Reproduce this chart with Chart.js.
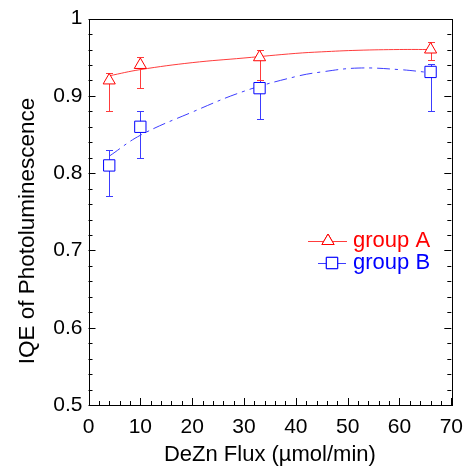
<!DOCTYPE html>
<html>
<head>
<meta charset="utf-8">
<script src="https://cdn.jsdelivr.net/npm/chart.js@4"></script>
<style>
  html, body { margin: 0; padding: 0; background: #fff; }
  #iqeChart { display: block; }
</style>
</head>
<body>
<canvas id="iqeChart" width="473" height="468"></canvas>
<script>
// measured points
const fluxValues = [4, 10, 33, 66];
const groupA = [0.92, 0.94, 0.95, 0.96];
const groupAErrUp = [0.01, 0.01, 0.01, 0.01];
const groupAErrDown = [0.04, 0.03, 0.03, 0.013];
const groupB = [0.81, 0.86, 0.91, 0.931];
const groupBErrUp = [0.02, 0.02, 0.01, 0.01];
const groupBErrDown = [0.04, 0.04, 0.04, 0.05];

// fitted curves
const fitFlux = [4, 10, 20, 30, 40, 45, 52, 60, 66];
const fitA = [0.926, 0.934, 0.943, 0.949, 0.955, 0.957, 0.959, 0.960, 0.960];
const fitB = [0.822, 0.849, 0.879, 0.906, 0.925, 0.931, 0.936, 0.934, 0.930];

const RED = "#ff0000";
const BLUE = "#0000ff";
const RED_LINE = "#ff3c3c";
const BLUE_LINE = "#3c3cff";
const FONT = "'Liberation Sans', Arial, sans-serif";

function toPoints(xs, ys) {
  return xs.map((x, i) => ({ x: x, y: ys[i] }));
}

// error bars drawn just before their marker dataset
const errorBars = {
  id: "errorBars",
  beforeDatasetDraw(chart, args) {
    const ds = chart.data.datasets[args.index];
    if (!ds.errUp) return;
    const { ctx, scales } = chart;
    ctx.save();
    ctx.strokeStyle = ds.errColor;
    ctx.lineWidth = 1;
    ds.data.forEach((p, i) => {
      const px = Math.round(scales.x.getPixelForValue(p.x)) + 0.5;
      const top = Math.round(scales.y.getPixelForValue(p.y + ds.errUp[i])) + 0.5;
      const bot = Math.round(scales.y.getPixelForValue(p.y - ds.errDown[i])) + 0.5;
      ctx.beginPath();
      ctx.moveTo(px, top);
      ctx.lineTo(px, bot);
      ctx.moveTo(px - 3.5, top);
      ctx.lineTo(px + 3.5, top);
      ctx.moveTo(px - 3.5, bot);
      ctx.lineTo(px + 3.5, bot);
      ctx.stroke();
    });
    ctx.restore();
  },
};

// frame with inward ticks on left, right and bottom, plus the y title
const frameTicks = {
  id: "frameTicks",
  afterDraw(chart) {
    const { ctx, chartArea: a, scales } = chart;
    ctx.save();
    ctx.strokeStyle = "#000";
    ctx.lineWidth = 1;
    ctx.beginPath();
    scales.y.ticks.forEach((t) => {
      const py = Math.round(scales.y.getPixelForValue(t.value)) + 0.5;
      const major = Math.abs(t.value * 10 - Math.round(t.value * 10)) < 1e-6;
      const len = major ? 7 : 4;
      ctx.moveTo(a.left, py);
      ctx.lineTo(a.left + len, py);
      ctx.moveTo(a.right, py);
      ctx.lineTo(a.right - len, py);
    });
    scales.x.ticks.forEach((t) => {
      const px = Math.round(scales.x.getPixelForValue(t.value)) + 0.5;
      const len = t.value % 10 === 0 ? 7 : 4;
      ctx.moveTo(px, a.bottom);
      ctx.lineTo(px, a.bottom - len);
    });
    ctx.stroke();
    ctx.strokeRect(Math.round(a.left) + 0.5, Math.round(a.top) + 0.5,
      Math.round(a.right - a.left), Math.round(a.bottom - a.top));

    ctx.translate(34, 231);
    ctx.rotate(-Math.PI / 2);
    ctx.fillStyle = "#000";
    ctx.font = "22.5px " + FONT;
    ctx.textAlign = "center";
    ctx.textBaseline = "alphabetic";
    ctx.fillText("IQE of Photoluminescence", 0, 0);
    ctx.restore();
  },
};

// legend inside the plot area
const insideLegend = {
  id: "insideLegend",
  afterDraw(chart) {
    const ctx = chart.ctx;
    const rows = [
      { ds: chart.data.datasets[2], y: 241, x0: 308, x1: 347, mx: 328 },
      { ds: chart.data.datasets[3], y: 263, x0: 318, x1: 346, mx: 332 },
    ];
    ctx.save();
    rows.forEach((r) => {
      ctx.strokeStyle = r.ds.errColor;
      ctx.lineWidth = 1;
      ctx.beginPath();
      ctx.moveTo(r.x0, r.y + 0.5);
      ctx.lineTo(r.x1, r.y + 0.5);
      ctx.stroke();
      ctx.strokeStyle = r.ds.borderColor;
      Chart.helpers.drawPoint(ctx, {
        pointStyle: r.ds.pointStyle,
        radius: r.ds.pointRadius,
        borderWidth: 1,
      }, r.mx, r.y);
      ctx.fillStyle = "#fff";
      ctx.fill();
      ctx.stroke();
      ctx.fillStyle = r.ds.borderColor;
      ctx.font = "22px " + FONT;
      ctx.textBaseline = "middle";
      ctx.fillText(r.ds.label, 353, r.y);
    });
    ctx.restore();
  },
};

const ctx = document.getElementById("iqeChart").getContext("2d");
new Chart(ctx, {
  type: "scatter",
  data: {
    datasets: [
      {
        label: "fit A",
        data: toPoints(fitFlux, fitA),
        showLine: true,
        borderColor: RED_LINE,
        borderWidth: 1,
        pointRadius: 0,
        tension: 0.4,
        order: 3,
      },
      {
        label: "fit B",
        data: toPoints(fitFlux, fitB),
        showLine: true,
        borderColor: BLUE_LINE,
        borderWidth: 1,
        borderDash: [13, 5, 3, 5],
        pointRadius: 0,
        tension: 0.4,
        order: 3,
      },
      {
        label: "group A",
        data: toPoints(fluxValues, groupA),
        errUp: groupAErrUp,
        errDown: groupAErrDown,
        errColor: RED_LINE,
        borderColor: RED,
        backgroundColor: "#fff",
        borderWidth: 1,
        pointStyle: "triangle",
        pointRadius: 7,
        order: 1,
      },
      {
        label: "group B",
        data: toPoints(fluxValues, groupB),
        errUp: groupBErrUp,
        errDown: groupBErrDown,
        errColor: BLUE_LINE,
        borderColor: BLUE,
        backgroundColor: "#fff",
        borderWidth: 1,
        pointStyle: "rect",
        pointRadius: 8,
        order: 1,
      },
    ],
  },
  options: {
    responsive: false,
    animation: false,
    layout: { padding: { top: 14, right: 17, left: 0, bottom: 0 } },
    plugins: {
      legend: { display: false },
      tooltip: { enabled: false },
    },
    scales: {
      x: {
        type: "linear",
        min: 0,
        max: 70,
        border: { display: false },
        grid: { display: false, drawTicks: false },
        ticks: {
          stepSize: 2,
          autoSkip: false,
          maxRotation: 0,
          padding: 10,
          color: "#000",
          font: { family: FONT, size: 21 },
          callback: (v) => (v % 10 === 0 ? String(v) : ""),
        },
        title: {
          display: true,
          text: "DeZn Flux (\u00b5mol/min)",
          color: "#000",
          font: { family: FONT, size: 22 },
          padding: { top: 2, bottom: 0 },
        },
        afterFit: (scale) => { scale.height = 63; },
      },
      y: {
        min: 0.5,
        max: 1,
        border: { display: false },
        grid: { display: false, drawTicks: false },
        ticks: {
          stepSize: 0.02,
          autoSkip: false,
          padding: 6,
          color: "#000",
          font: { family: FONT, size: 21 },
          callback: (v) => {
            const major = Math.abs(v * 10 - Math.round(v * 10)) < 1e-6;
            return major ? String(Math.round(v * 10) / 10) : "";
          },
        },
        afterFit: (scale) => { scale.width = 88.5; },
      },
    },
  },
  plugins: [errorBars, frameTicks, insideLegend],
});
</script>
</body>
</html>
